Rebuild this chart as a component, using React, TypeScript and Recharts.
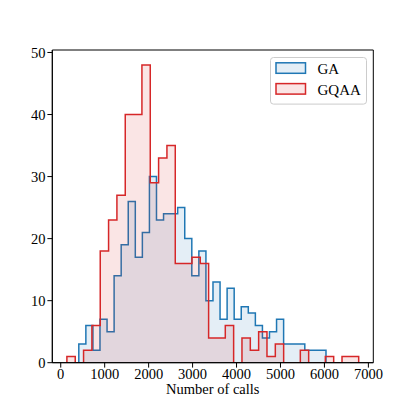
import React from 'react';
import { ComposedChart, Area, XAxis, YAxis, ReferenceArea, Legend } from 'recharts';

// Histogram data (35 bins each), counts
const SERIES_NAMES = ['GA', 'GQAA'];
const GA_BIN_START = 411;
const GA_BIN_WIDTH = 160.7;
const GA_COUNTS = [3, 6, 2, 7, 5, 14, 19, 26, 17, 21, 30, 23, 24, 24, 25, 20, 14, 18, 10, 13, 7, 12, 7, 9, 8, 6, 4, 5, 7, 3, 3, 3, 2, 2, 2];
const GQAA_BIN_START = 140;
const GQAA_BIN_WIDTH = 189.7;
const GQAA_COUNTS = [1, 0, 2, 6, 18, 23, 27, 40, 40, 48, 29, 33, 35, 16, 16, 17, 16, 4, 4, 6, 0, 4, 2, 5, 1, 3, 0, 0, 2, 0, 0, 1, 0, 1, 1];
const X_TICKS = [0, 1000, 2000, 3000, 4000, 5000, 6000, 7000];
const Y_TICKS = [0, 10, 20, 30, 40, 50];
const X_DOMAIN = [-192, 7112];
const Y_DOMAIN = [0, 50.4];
const X_LABEL = 'Number of calls';

const COLORS = ['#1f77b4', '#d62728'];
const FONT = '"Liberation Serif", "Times New Roman", serif';
const FS = 14.5;

function buildRows(key: string, start: number, width: number, counts: number[]) {
  const rows: any[] = [{ x: start, [key]: 0 }];
  counts.forEach((c, i) => rows.push({ x: start + i * width, [key]: c }));
  const end = start + counts.length * width;
  rows.push({ x: end, [key]: counts[counts.length - 1] });
  rows.push({ x: end, [key]: 0 });
  return rows;
}

const rows = [
  ...buildRows('ga', GA_BIN_START, GA_BIN_WIDTH, GA_COUNTS),
  ...buildRows('gqaa', GQAA_BIN_START, GQAA_BIN_WIDTH, GQAA_COUNTS),
]
  .map((r, i) => ({ ...r, _i: i }))
  .sort((a, b) => (a.x - b.x) || (a._i - b._i));

const LegendBox = () => (
  <svg width={97} height={48} style={{ display: 'block', overflow: 'visible' }}>
    <rect x={0.5} y={0.5} width={96} height={46.6} rx={3} ry={3} fill="rgba(255,255,255,0.8)" stroke="#cccccc" strokeWidth={1} />
    {SERIES_NAMES.map((name, i) => (
      <g key={name}>
        <rect x={6} y={5.8 + i * 20.8} width={29.5} height={10.5} fill={COLORS[i]} fillOpacity={0.12} stroke={COLORS[i]} strokeWidth={1.5} />
        <text x={47.5} y={16.8 + i * 20.8} fontFamily={FONT} fontSize={15} fill="#000">{name}</text>
      </g>
    ))}
  </svg>
);

export default function App() {
  return (
    <div style={{ position: 'absolute', left: 0, top: 0, width: 415, height: 415, background: '#fff' }}>
      <ComposedChart
        width={415}
        height={415}
        data={rows}
        margin={{ top: 50, right: 41.7, bottom: 22.3, left: 12.3 }}
      >
        <XAxis
          type="number"
          dataKey="x"
          domain={X_DOMAIN}
          ticks={X_TICKS}
          allowDataOverflow
          height={30}
          tickSize={4.9}
          tickMargin={1}
          axisLine={{ stroke: '#000', strokeWidth: 1 }}
          tickLine={{ stroke: '#000', strokeWidth: 1 }}
          tick={{ fill: '#000', fontSize: FS, fontFamily: FONT }}
          interval={0}
          label={{ value: X_LABEL, position: 'bottom', offset: -9, fill: '#000', fontSize: FS, fontFamily: FONT }}
        />
        <YAxis
          type="number"
          domain={Y_DOMAIN}
          ticks={Y_TICKS}
          allowDataOverflow
          width={40}
          tickSize={4.9}
          tickMargin={2}
          axisLine={{ stroke: '#000', strokeWidth: 1 }}
          tickLine={{ stroke: '#000', strokeWidth: 1 }}
          tick={{ fill: '#000', fontSize: FS, fontFamily: FONT }}
          interval={0}
        />
        <Area
          dataKey="ga"
          name={SERIES_NAMES[0]}
          type="stepAfter"
          connectNulls
          baseValue={0}
          stroke={COLORS[0]}
          strokeWidth={1.5}
          fill={COLORS[0]}
          fillOpacity={0.12}
          dot={false}
          activeDot={false}
          isAnimationActive={false}
        />
        <Area
          dataKey="gqaa"
          name={SERIES_NAMES[1]}
          type="stepAfter"
          connectNulls
          baseValue={0}
          stroke={COLORS[1]}
          strokeWidth={1.5}
          fill={COLORS[1]}
          fillOpacity={0.12}
          dot={false}
          activeDot={false}
          isAnimationActive={false}
        />
        <ReferenceArea
          x1={X_DOMAIN[0]}
          x2={X_DOMAIN[1]}
          y1={Y_DOMAIN[0]}
          y2={Y_DOMAIN[1]}
          fill="none"
          stroke="#000"
          strokeWidth={1}
          ifOverflow="visible"
        />
        <Legend
          layout="horizontal"
          align="center"
          verticalAlign="middle"
          wrapperStyle={{ position: 'absolute', left: 270, top: 56.5, width: 97, height: 48 }}
          content={() => <LegendBox />}
        />
      </ComposedChart>
    </div>
  );
}
